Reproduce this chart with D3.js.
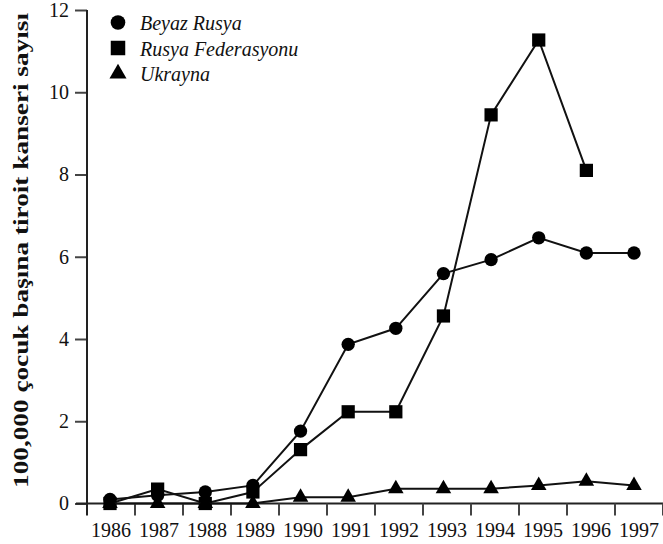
<!DOCTYPE html>
<html>
<head>
<meta charset="utf-8">
<script src="https://cdn.jsdelivr.net/npm/d3@7"></script>
<style>
  body { margin: 0; background: #fff; }
  svg { display: block; }
</style>
</head>
<body>
<svg></svg>
<script>
var width = 663;
var height = 544;

var years = ["1986", "1987", "1988", "1989", "1990", "1991", "1992", "1993", "1994", "1995", "1996", "1997"];
var beyazRusya = [0.1, 0.2, 0.28, 0.44, 1.76, 3.87, 4.26, 5.59, 5.93, 6.46, 6.09, 6.09];
var rusyaFed = [0, 0.35, 0, 0.28, 1.31, 2.23, 2.23, 4.56, 9.45, 11.27, 8.1, null];
var ukrayna = [0, 0, 0, 0, 0.15, 0.15, 0.36, 0.36, 0.36, 0.44, 0.54, 0.44];
var yTicks = [0, 2, 4, 6, 8, 10, 12];
var seriesNames = ["Beyaz Rusya", "Rusya Federasyonu", "Ukrayna"];

var svg = d3.select("svg")
            .attr("width", width)
            .attr("height", height);

var axisX = 87;
var axisY = 503.5;

// band scale for the tick boundaries / labels, point scale for the markers
var xBand = d3.scaleBand()
              .domain(years)
              .range([axisX, axisX + 48 * 12]);

var xPoint = d3.scalePoint()
               .domain(years)
               .range([110, 634]);

var yScale = d3.scaleLinear()
               .domain([0, 12])
               .range([axisY, 10]);

var font = "'Liberation Serif', 'Times New Roman', serif";

// y axis
var yAxis = svg.append("g")
  .attr("transform", "translate(" + axisX + ",0)")
  .call(d3.axisLeft(yScale).tickValues(yTicks).tickSize(12).tickSizeOuter(0).tickPadding(6));
yAxis.select(".domain").remove();
yAxis.selectAll(".tick line").attr("stroke", "#444").attr("stroke-width", 2);
yAxis.selectAll("text")
  .attr("font-family", font)
  .attr("font-size", 20)
  .attr("fill", "#111");

svg.append("line")
  .attr("x1", axisX).attr("x2", axisX)
  .attr("y1", yScale(12)).attr("y2", axisY + 12)
  .attr("stroke", "#222").attr("stroke-width", 2);

// x axis
var xAxis = svg.append("g")
  .attr("transform", "translate(0," + axisY + ")")
  .call(d3.axisBottom(xBand).tickSize(0).tickPadding(19));
xAxis.select(".domain").remove();
xAxis.selectAll("text")
  .attr("font-family", font)
  .attr("font-size", 20)
  .attr("fill", "#111");

svg.append("line")
  .attr("x1", 76).attr("x2", width)
  .attr("y1", axisY).attr("y2", axisY)
  .attr("stroke", "#222").attr("stroke-width", 2);

svg.selectAll(".xtick")
  .data(years.slice(1).concat(["end"]))
  .enter()
  .append("line")
  .attr("class", "xtick")
  .attr("x1", function(d, i) { return xBand(years[0]) + xBand.step() * (i + 1); })
  .attr("x2", function(d, i) { return xBand(years[0]) + xBand.step() * (i + 1); })
  .attr("y1", axisY)
  .attr("y2", axisY + 12)
  .attr("stroke", "#444")
  .attr("stroke-width", 2);

// y label
svg.append("text")
  .attr("transform", "translate(27.5,250.5) rotate(-90)")
  .attr("text-anchor", "middle")
  .attr("font-family", font)
  .attr("font-weight", "bold")
  .attr("font-size", 22)
  .attr("textLength", 475)
  .attr("lengthAdjust", "spacingAndGlyphs")
  .attr("fill", "#111")
  .text("100,000 çocuk başına tiroit kanseri sayısı");

// series
var series = [
  { name: seriesNames[0], values: beyazRusya, symbol: d3.symbolCircle, size: 140 },
  { name: seriesNames[1], values: rusyaFed, symbol: d3.symbolSquare, size: 175 },
  { name: seriesNames[2], values: ukrayna, symbol: d3.symbolTriangle, size: 105 }
];

var line = d3.line()
  .defined(function(d) { return d.v !== null; })
  .x(function(d) { return xPoint(d.year); })
  .y(function(d) { return yScale(d.v); });

series.forEach(function(s) {
  var pts = years.map(function(y, i) { return { year: y, v: s.values[i] }; });

  svg.append("path")
    .datum(pts)
    .attr("d", line)
    .attr("fill", "none")
    .attr("stroke", "#111")
    .attr("stroke-width", 2);

  svg.selectAll(null)
    .data(pts.filter(function(d) { return d.v !== null; }))
    .enter()
    .append("path")
    .attr("d", d3.symbol().type(s.symbol).size(s.size))
    .attr("transform", function(d) {
      return "translate(" + xPoint(d.year) + "," + yScale(d.v) + ")";
    })
    .attr("fill", "#000");
});

// legend
var legend = svg.append("g");
var legendRows = legend.selectAll("g")
  .data(series)
  .enter()
  .append("g")
  .attr("transform", function(d, i) { return "translate(118," + (22.5 + i * 25.5) + ")"; });

legendRows.append("path")
  .attr("d", function(d) { return d3.symbol().type(d.symbol).size(d.size * 1.2)(); })
  .attr("fill", "#000");

legendRows.append("text")
  .attr("x", 22)
  .attr("y", 7.5)
  .attr("font-family", font)
  .attr("font-style", "italic")
  .attr("font-size", 20)
  .attr("fill", "#111")
  .text(function(d) { return d.name; });
</script>
</body>
</html>
